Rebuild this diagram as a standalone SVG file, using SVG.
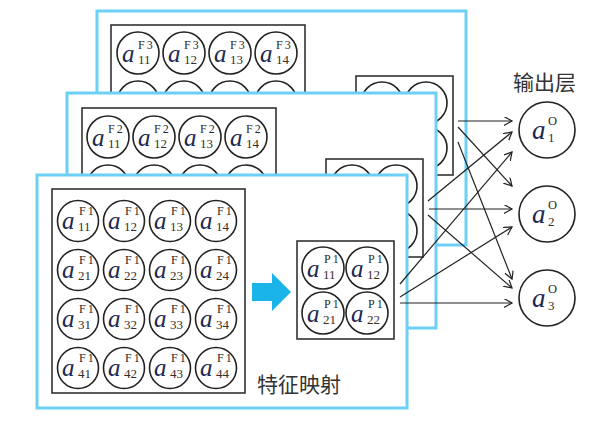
<svg xmlns="http://www.w3.org/2000/svg" width="599" height="440" viewBox="0 0 599 440">
<style>
.frame{fill:#fff;stroke:#6ccff6;stroke-width:3}
.box{fill:none;stroke:#333;stroke-width:1.6}
.n{fill:#fff;stroke:#222;stroke-width:1.6}
.a{font-family:"Liberation Serif",serif;font-style:italic;font-size:25px;fill:#1d2951}
.sp{font-family:"Liberation Serif",serif;font-size:12px;fill:#2a2a2a;letter-spacing:2px}
.sb{font-family:"Liberation Serif",serif;font-size:13px;fill:#3a2c1e}
.ao{font-family:"Liberation Serif",serif;font-style:italic;font-size:27px;fill:#1d2951}
.lbl{font-family:"Noto Sans CJK SC",sans-serif;font-size:21px;fill:#333}
.conn line{stroke:#222;stroke-width:1.2;fill:none;marker-end:url(#arr)}
</style>
<defs>
<marker id="arr" markerUnits="userSpaceOnUse" markerWidth="10" markerHeight="10" refX="8" refY="4.5" orient="auto">
<path d="M0,0 L8,4.5 L0,9" fill="none" stroke="#222" stroke-width="1.2"/>
</marker>
</defs>

<!-- Layer 3 -->
<g id="layer3">
<rect class="frame" x="97" y="11" width="369" height="234"/>
<rect class="box" x="111" y="25" width="194" height="210"/>
<g id="f3-11"><circle class="n" cx="138" cy="53" r="21"/><text class="a" x="122" y="62">a</text><text class="sp" x="138" y="49">F3</text><text class="sb" x="138" y="64">11</text></g>
<g id="f3-12"><circle class="n" cx="184" cy="53" r="21"/><text class="a" x="168" y="62">a</text><text class="sp" x="184" y="49">F3</text><text class="sb" x="184" y="64">12</text></g>
<g id="f3-13"><circle class="n" cx="230" cy="53" r="21"/><text class="a" x="214" y="62">a</text><text class="sp" x="230" y="49">F3</text><text class="sb" x="230" y="64">13</text></g>
<g id="f3-14"><circle class="n" cx="276" cy="53" r="21"/><text class="a" x="260" y="62">a</text><text class="sp" x="276" y="49">F3</text><text class="sb" x="276" y="64">14</text></g>
<g id="f3-row2"><circle class="n" cx="138" cy="102" r="21"/><circle class="n" cx="184" cy="102" r="21"/><circle class="n" cx="230" cy="102" r="21"/><circle class="n" cx="276" cy="102" r="21"/></g>
<g id="p3">
<rect class="box" x="356" y="76" width="97" height="99"/>
<circle class="n" cx="382" cy="103" r="21"/><circle class="n" cx="426" cy="103" r="21"/>
<circle class="n" cx="382" cy="148" r="21"/><circle class="n" cx="426" cy="148" r="21"/>
</g>
</g>

<!-- Layer 2 -->
<g id="layer2">
<rect class="frame" x="67" y="93" width="369" height="235"/>
<rect class="box" x="82" y="108" width="194" height="210"/>
<g id="f2-11"><circle class="n" cx="108" cy="137" r="21"/><text class="a" x="92" y="146">a</text><text class="sp" x="108" y="133">F2</text><text class="sb" x="108" y="148">11</text></g>
<g id="f2-12"><circle class="n" cx="154" cy="137" r="21"/><text class="a" x="138" y="146">a</text><text class="sp" x="154" y="133">F2</text><text class="sb" x="154" y="148">12</text></g>
<g id="f2-13"><circle class="n" cx="200" cy="137" r="21"/><text class="a" x="184" y="146">a</text><text class="sp" x="200" y="133">F2</text><text class="sb" x="200" y="148">13</text></g>
<g id="f2-14"><circle class="n" cx="246" cy="137" r="21"/><text class="a" x="230" y="146">a</text><text class="sp" x="246" y="133">F2</text><text class="sb" x="246" y="148">14</text></g>
<g id="f2-row2"><circle class="n" cx="108" cy="186" r="21"/><circle class="n" cx="154" cy="186" r="21"/><circle class="n" cx="200" cy="186" r="21"/><circle class="n" cx="246" cy="186" r="21"/></g>
<g id="p2">
<rect class="box" x="326" y="159" width="97" height="98"/>
<circle class="n" cx="352" cy="186" r="21"/><circle class="n" cx="396" cy="186" r="21"/>
<circle class="n" cx="352" cy="231" r="21"/><circle class="n" cx="396" cy="231" r="21"/>
</g>
</g>

<!-- Layer 1 -->
<g id="layer1">
<rect class="frame" x="37" y="175" width="370" height="233"/>
<rect class="box" x="52" y="189" width="193" height="204"/>
<g id="f1-11"><circle class="n" cx="78" cy="221" r="20.5"/><text class="a" x="62" y="229">a</text><text class="sp" x="79" y="215">F1</text><text class="sb" x="78" y="231">11</text></g>
<g id="f1-12"><circle class="n" cx="124" cy="221" r="20.5"/><text class="a" x="108" y="229">a</text><text class="sp" x="125" y="215">F1</text><text class="sb" x="124" y="231">12</text></g>
<g id="f1-13"><circle class="n" cx="170" cy="221" r="20.5"/><text class="a" x="154" y="229">a</text><text class="sp" x="171" y="215">F1</text><text class="sb" x="170" y="231">13</text></g>
<g id="f1-14"><circle class="n" cx="216" cy="221" r="20.5"/><text class="a" x="200" y="229">a</text><text class="sp" x="217" y="215">F1</text><text class="sb" x="216" y="231">14</text></g>
<g id="f1-21"><circle class="n" cx="78" cy="270" r="20.5"/><text class="a" x="62" y="278">a</text><text class="sp" x="79" y="264">F1</text><text class="sb" x="78" y="280">21</text></g>
<g id="f1-22"><circle class="n" cx="124" cy="270" r="20.5"/><text class="a" x="108" y="278">a</text><text class="sp" x="125" y="264">F1</text><text class="sb" x="124" y="280">22</text></g>
<g id="f1-23"><circle class="n" cx="170" cy="270" r="20.5"/><text class="a" x="154" y="278">a</text><text class="sp" x="171" y="264">F1</text><text class="sb" x="170" y="280">23</text></g>
<g id="f1-24"><circle class="n" cx="216" cy="270" r="20.5"/><text class="a" x="200" y="278">a</text><text class="sp" x="217" y="264">F1</text><text class="sb" x="216" y="280">24</text></g>
<g id="f1-31"><circle class="n" cx="78" cy="319" r="20.5"/><text class="a" x="62" y="327">a</text><text class="sp" x="79" y="313">F1</text><text class="sb" x="78" y="329">31</text></g>
<g id="f1-32"><circle class="n" cx="124" cy="319" r="20.5"/><text class="a" x="108" y="327">a</text><text class="sp" x="125" y="313">F1</text><text class="sb" x="124" y="329">32</text></g>
<g id="f1-33"><circle class="n" cx="170" cy="319" r="20.5"/><text class="a" x="154" y="327">a</text><text class="sp" x="171" y="313">F1</text><text class="sb" x="170" y="329">33</text></g>
<g id="f1-34"><circle class="n" cx="216" cy="319" r="20.5"/><text class="a" x="200" y="327">a</text><text class="sp" x="217" y="313">F1</text><text class="sb" x="216" y="329">34</text></g>
<g id="f1-41"><circle class="n" cx="78" cy="368" r="20.5"/><text class="a" x="62" y="376">a</text><text class="sp" x="79" y="362">F1</text><text class="sb" x="78" y="378">41</text></g>
<g id="f1-42"><circle class="n" cx="124" cy="368" r="20.5"/><text class="a" x="108" y="376">a</text><text class="sp" x="125" y="362">F1</text><text class="sb" x="124" y="378">42</text></g>
<g id="f1-43"><circle class="n" cx="170" cy="368" r="20.5"/><text class="a" x="154" y="376">a</text><text class="sp" x="171" y="362">F1</text><text class="sb" x="170" y="378">43</text></g>
<g id="f1-44"><circle class="n" cx="216" cy="368" r="20.5"/><text class="a" x="200" y="376">a</text><text class="sp" x="217" y="362">F1</text><text class="sb" x="216" y="378">44</text></g>
<g id="p1">
<rect class="box" x="297" y="241" width="97" height="98"/>
<g id="p1-11"><circle class="n" cx="323" cy="268" r="21"/><text class="a" x="307" y="277">a</text><text class="sp" x="324" y="263">P1</text><text class="sb" x="323" y="279">11</text></g>
<g id="p1-12"><circle class="n" cx="367" cy="268" r="21"/><text class="a" x="351" y="277">a</text><text class="sp" x="368" y="263">P1</text><text class="sb" x="367" y="279">12</text></g>
<g id="p1-21"><circle class="n" cx="323" cy="313" r="21"/><text class="a" x="307" y="322">a</text><text class="sp" x="324" y="308">P1</text><text class="sb" x="323" y="324">21</text></g>
<g id="p1-22"><circle class="n" cx="367" cy="313" r="21"/><text class="a" x="351" y="322">a</text><text class="sp" x="368" y="308">P1</text><text class="sb" x="367" y="324">22</text></g>
</g>
<polygon id="map-arrow" points="252,283 272,283 272,273 291,292 272,311 272,301 252,301" fill="#1ab4e8"/>
<text id="label-fmap" class="lbl" x="257" y="392">特征映射</text>
</g>

<!-- Output layer -->
<g id="output">
<text id="label-out" class="lbl" x="513" y="90">输出层</text>
<g id="o1"><circle class="n" cx="547" cy="130" r="28"/><text class="ao" x="532" y="139">a</text><text class="sp" x="548" y="125" style="font-size:12.5px">O</text><text class="sb" x="548" y="142">1</text></g>
<g id="o2"><circle class="n" cx="547" cy="214" r="28"/><text class="ao" x="532" y="223">a</text><text class="sp" x="548" y="209" style="font-size:12.5px">O</text><text class="sb" x="548" y="226">2</text></g>
<g id="o3"><circle class="n" cx="547" cy="298" r="28"/><text class="ao" x="532" y="307">a</text><text class="sp" x="548" y="293" style="font-size:12.5px">O</text><text class="sb" x="548" y="310">3</text></g>
</g>

<g id="connectors" class="conn">
<line x1="458" y1="121" x2="512" y2="121"/>
<line x1="458" y1="127" x2="512" y2="186"/>
<line x1="458" y1="142" x2="512" y2="279"/>
<line x1="428" y1="201" x2="512" y2="132"/>
<line x1="429" y1="209" x2="512" y2="209"/>
<line x1="428" y1="215" x2="512" y2="288"/>
<line x1="400" y1="284" x2="512" y2="152"/>
<line x1="400" y1="297" x2="512" y2="227"/>
<line x1="400" y1="303" x2="512" y2="303"/>
</g>
</svg>
